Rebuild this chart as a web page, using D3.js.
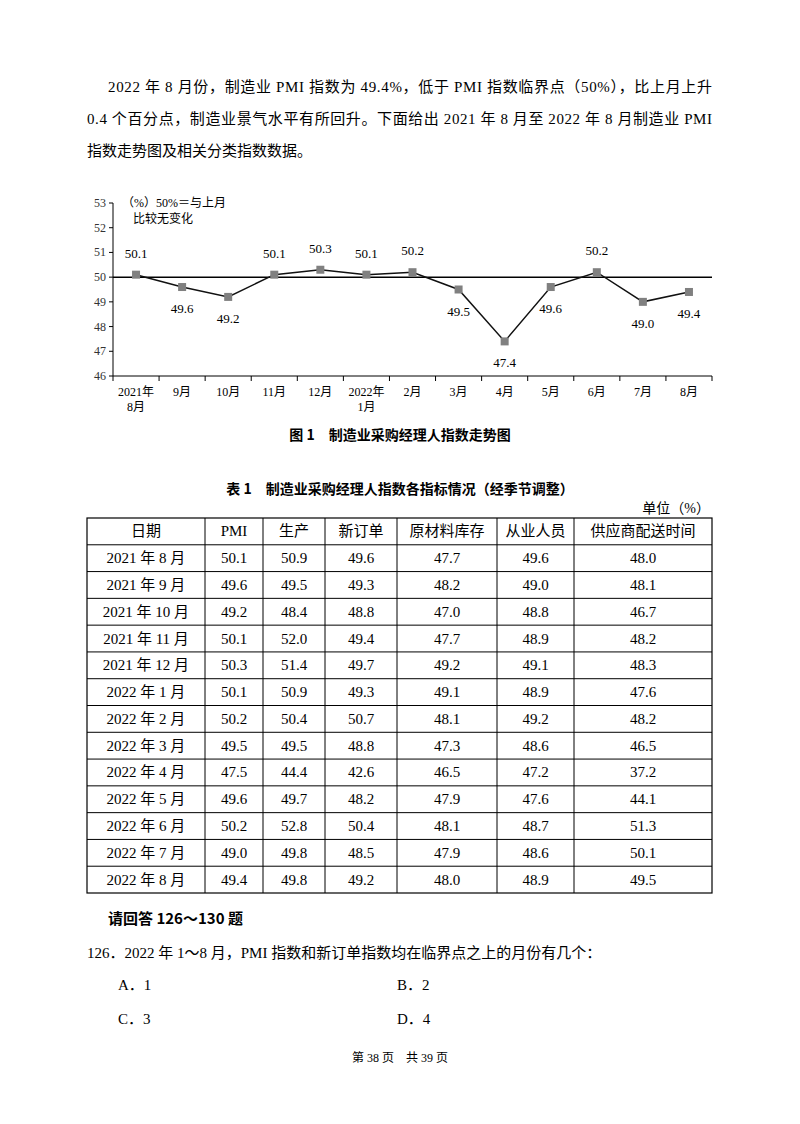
<!DOCTYPE html>
<html><head><meta charset="utf-8">
<script src="https://cdn.jsdelivr.net/npm/d3@7"></script>
<style>body{margin:0;background:#fff}</style>
</head><body>
<svg id="page" width="800" height="1124"></svg>
<script>
var months = ["2021年\n8月","9月","10月","11月","12月","2022年\n1月","2月","3月","4月","5月","6月","7月","8月"];
var pmi = [50.1,49.6,49.2,50.1,50.3,50.1,50.2,49.5,47.4,49.6,50.2,49.0,49.4];
var labelAbove = [true,false,false,true,true,true,true,false,false,false,true,false,false];
var yTicks = [46,47,48,49,50,51,52,53];

var headers = ["日期","PMI","生产","新订单","原材料库存","从业人员","供应商配送时间"];
var dates = ["2021 年 8 月","2021 年 9 月","2021 年 10 月","2021 年 11 月","2021 年 12 月","2022 年 1 月","2022 年 2 月","2022 年 3 月","2022 年 4 月","2022 年 5 月","2022 年 6 月","2022 年 7 月","2022 年 8 月"];
var colPMI = [50.1,49.6,49.2,50.1,50.3,50.1,50.2,49.5,47.5,49.6,50.2,49.0,49.4];
var colProd = [50.9,49.5,48.4,52.0,51.4,50.9,50.4,49.5,44.4,49.7,52.8,49.8,49.8];
var colOrder = [49.6,49.3,48.8,49.4,49.7,49.3,50.7,48.8,42.6,48.2,50.4,48.5,49.2];
var colStock = [47.7,48.2,47.0,47.7,49.2,49.1,48.1,47.3,46.5,47.9,48.1,47.9,48.0];
var colStaff = [49.6,49.0,48.8,48.9,49.1,48.9,49.2,48.6,47.2,47.6,48.7,48.6,48.9];
var colSupply = [48.0,48.1,46.7,48.2,48.3,47.6,48.2,46.5,37.2,44.1,51.3,50.1,49.5];

var svg = d3.select("#page");
var serif = "'Liberation Serif','DejaVu Serif','Noto Sans CJK SC',serif";
var cjk = "'Liberation Serif','Noto Sans CJK SC',sans-serif";

// paragraph
var para = [
  {x:108, y:92, t:"2022 年 8 月份，制造业 PMI 指数为 49.4%，低于 PMI 指数临界点（50%），比上月上升"},
  {x:87, y:124, t:"0.4 个百分点，制造业景气水平有所回升。下面给出 2021 年 8 月至 2022 年 8 月制造业 PMI"},
  {x:87, y:156, t:"指数走势图及相关分类指数数据。"}
];
svg.selectAll("text.para").data(para).enter().append("text")
  .attr("x", d => d.x).attr("y", d => d.y)
  .attr("textLength", (d,i) => i==2 ? null : (i==0 ? 604 : 625))
  .attr("lengthAdjust","spacing")
  .style("font-family", cjk).style("font-size","15px").text(d => d.t);

// chart
var x = d3.scaleBand().domain(d3.range(months.length)).range([113, 712]);
var y = d3.scaleLinear().domain([46,53]).range([376, 203]);
var g = svg.append("g").style("font-family", serif).style("font-size","12px");

g.append("line").attr("x1",113).attr("x2",113).attr("y1",203).attr("y2",376).attr("stroke","#000");
g.append("line").attr("x1",113).attr("x2",712).attr("y1",376).attr("y2",376).attr("stroke","#000");
g.selectAll(".yt").data(yTicks).enter().append("line")
  .attr("x1",109).attr("x2",113).attr("y1",d=>y(d)).attr("y2",d=>y(d)).attr("stroke","#000");
g.selectAll(".yl").data(yTicks).enter().append("text")
  .attr("x",106).attr("y",d=>y(d)+4).attr("text-anchor","end").attr("fill","#333").text(d=>d);
g.selectAll(".xt").data(d3.range(months.length+1)).enter().append("line")
  .attr("x1",d=>113+d*x.step()).attr("x2",d=>113+d*x.step())
  .attr("y1",376).attr("y2",381).attr("stroke","#000");
months.forEach(function(m,i){
  m.split("\n").forEach(function(s,j){
    g.append("text").attr("x", x(i)+x.bandwidth()/2).attr("y", 396 + j*15)
      .attr("text-anchor","middle").text(s);
  });
});
g.append("line").attr("x1",113).attr("x2",712).attr("y1",y(50)).attr("y2",y(50))
  .attr("stroke","#000").attr("stroke-width",1.5);
var cx = i => x(i) + x.bandwidth()/2;
g.append("path").datum(pmi)
  .attr("d", d3.line().x((d,i)=>cx(i)).y(d=>y(d)))
  .attr("fill","none").attr("stroke","#111").attr("stroke-width",1.5);
g.selectAll(".pt").data(pmi).enter().append("rect")
  .attr("x",(d,i)=>cx(i)-4).attr("y",d=>y(d)-4).attr("width",8).attr("height",8).attr("fill","#808080");
g.selectAll(".vl").data(pmi).enter().append("text")
  .attr("x",(d,i)=>cx(i)).attr("y",(d,i)=>labelAbove[i] ? y(d)-17 : y(d)+26)
  .attr("text-anchor","middle").style("font-size","13px").text(d=>d.toFixed(1));
g.append("text").attr("x",122).attr("y",207).style("font-size","12px").text("（%）50%＝与上月");
g.append("text").attr("x",133).attr("y",223).style("font-size","12px").text("比较无变化");

svg.append("text").attr("x",400).attr("y",440).attr("text-anchor","middle")
  .style("font-family","'Noto Sans CJK SC',sans-serif").style("font-weight","bold").style("font-size","14px")
  .text("图 1　制造业采购经理人指数走势图");
svg.append("text").attr("x",400).attr("y",494).attr("text-anchor","middle")
  .style("font-family","'Noto Sans CJK SC',sans-serif").style("font-weight","bold").style("font-size","14px")
  .text("表 1　制造业采购经理人指数各指标情况（经季节调整）");
svg.append("text").attr("x",710).attr("y",513).attr("text-anchor","end")
  .style("font-family",cjk).style("font-size","14px").text("单位（%）");

// table
var colEdges = [87,205,263,325,397,497,574,712];
var columns = [dates, colPMI, colProd, colOrder, colStock, colStaff, colSupply];
var rowY = d3.scaleLinear().domain([0,14]).range([518,893]);
var t = svg.append("g").style("font-family",cjk).style("font-size","15px");
t.append("rect").attr("x",87).attr("y",518).attr("width",625).attr("height",375)
  .attr("fill","none").attr("stroke","#000").attr("stroke-width",1.2);
d3.range(1,14).forEach(r => t.append("line").attr("x1",87).attr("x2",712)
  .attr("y1",rowY(r)).attr("y2",rowY(r)).attr("stroke","#000"));
colEdges.slice(1,-1).forEach(c => t.append("line").attr("x1",c).attr("x2",c)
  .attr("y1",518).attr("y2",893).attr("stroke","#000"));
headers.forEach(function(h,ci){
  var mx = (colEdges[ci]+colEdges[ci+1])/2;
  t.append("text").attr("x",mx).attr("y",(rowY(0)+rowY(1))/2+5).attr("text-anchor","middle").text(h);
  columns[ci].forEach(function(v,r){
    t.append("text").attr("x",mx).attr("y",(rowY(r+1)+rowY(r+2))/2+5).attr("text-anchor","middle")
      .text(typeof v === "number" ? v.toFixed(1) : v);
  });
});

// questions
var q = svg.append("g").style("font-family",cjk).style("font-size","15px");
q.append("text").attr("x",108).attr("y",924).style("font-family","'Noto Sans CJK SC',sans-serif")
  .style("font-weight","bold").text("请回答 126～130 题");
q.append("text").attr("x",87).attr("y",958).text("126．2022 年 1～8 月，PMI 指数和新订单指数均在临界点之上的月份有几个：");
var opts = [["A．1",118,990],["B．2",397,990],["C．3",118,1024],["D．4",397,1024]];
q.selectAll(".o").data(opts).enter().append("text").attr("x",d=>d[1]).attr("y",d=>d[2]).text(d=>d[0]);
svg.append("text").attr("x",400).attr("y",1062).attr("text-anchor","middle")
  .style("font-family",cjk).style("font-size","12px").text("第 38 页　共 39 页");
</script>
</body></html>
